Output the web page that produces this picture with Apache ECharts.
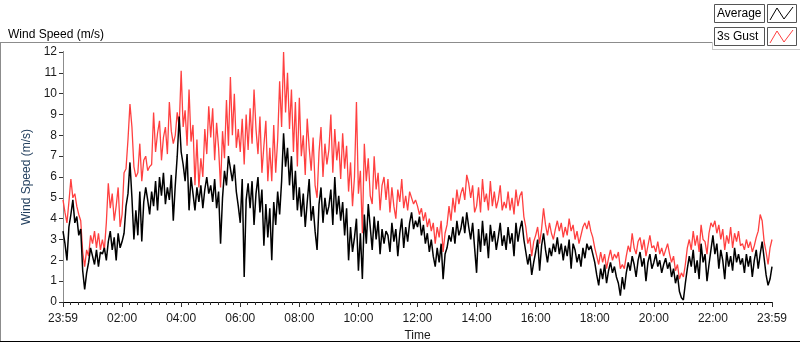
<!DOCTYPE html>
<html>
<head>
<meta charset="utf-8">
<script src="https://cdn.jsdelivr.net/npm/echarts@6/dist/echarts.min.js"></script>
<style>
html, body { margin: 0; padding: 0; background: #fff; }
#chart { width: 800px; height: 342px; }
</style>
</head>
<body>
<div id="chart"></div>
<script>
// one reading every 4 minutes, from 23:59 to 23:59
var stepMinutes = 4;

var avgSpeed = [
    3.4, 2.8, 2.0, 3.6, 4.2, 4.9, 3.8, 4.1, 3.2, 3.5, 1.5, 0.6, 1.4, 1.9, 2.6,
    2.2, 1.8, 2.5, 1.7, 2.4, 2.3, 2.6, 2.0, 2.9, 3.4, 2.5, 3.1, 2.0, 3.3, 2.6,
    2.9, 3.3, 4.6, 5.2, 6.7, 5.0, 3.0, 4.4, 3.2, 5.3, 2.9, 4.8, 5.5, 4.9, 4.2,
    5.3, 4.6, 5.8, 4.4, 6.0, 5.1, 6.2, 4.7, 5.5, 4.9, 6.1, 3.9, 5.6, 7.0, 8.9,
    7.2, 6.6, 5.8, 7.1, 4.4, 6.0, 5.2, 4.4, 5.5, 4.8, 5.6, 4.5, 5.4, 6.0, 5.2,
    5.6, 4.8, 5.9, 4.5, 5.3, 2.8, 5.0, 6.3, 5.6, 7.0, 6.4, 5.8, 6.6, 5.3, 4.6,
    3.8, 5.9, 1.2, 4.9, 5.7, 4.5, 5.8, 3.7, 5.2, 6.0, 4.3, 5.4, 2.7, 4.7, 3.1,
    4.5, 2.0, 4.8, 3.7, 5.3, 4.2, 5.8, 8.1, 6.5, 7.4, 5.6, 7.0, 4.9, 6.3, 4.4,
    5.5, 4.1, 5.2, 3.6, 4.8, 5.9, 3.9, 4.6, 3.4, 2.5, 4.7, 5.5, 3.8, 5.0, 4.2,
    4.6, 5.4, 3.7, 6.0, 4.2, 5.1, 3.9, 4.8, 3.2, 4.5, 2.0, 3.6, 2.4, 3.1, 4.0,
    1.5, 3.3, 1.1, 4.2, 2.8, 4.7, 3.6, 2.5, 4.1, 3.0, 3.9, 2.3, 3.5, 2.8, 3.4,
    3.2, 2.4, 3.8, 2.9, 3.5, 2.2, 3.3, 4.0, 2.6, 3.6, 2.9, 3.8, 4.3, 3.5, 3.9,
    3.6, 4.1, 3.2, 3.7, 2.8, 3.3, 2.4, 3.0, 2.2, 1.7, 2.6, 1.9, 2.8, 1.1, 2.3,
    2.6, 3.2, 2.9, 3.6, 2.8, 3.9, 3.2, 3.5, 4.1, 3.3, 4.3, 3.6, 3.0, 3.8, 2.6,
    1.4, 3.5, 2.4, 3.9, 2.7, 3.3, 2.1, 3.7, 2.9, 3.4, 2.5, 3.1, 3.8, 2.7, 3.2,
    2.5, 3.6, 2.8, 3.3, 2.2, 3.8, 2.9, 3.5, 3.9, 3.0, 2.4, 1.8, 2.3, 1.3, 1.9,
    2.4, 3.0, 1.5, 2.7, 3.3, 2.5, 1.9, 2.6, 2.2, 2.8, 2.4, 3.1, 2.3, 2.8, 2.0,
    2.7, 2.2, 3.0, 1.6, 2.8, 2.5, 1.9, 2.3, 1.7, 2.6, 2.1, 2.8, 2.5, 2.7, 2.3,
    1.9, 1.3, 0.8, 1.6, 1.1, 1.8, 0.9, 1.5, 1.9, 1.4, 1.7, 1.2, 0.9, 0.3, 1.2,
    0.6, 1.4, 1.9, 1.5, 2.2, 1.8, 1.2, 2.0, 2.4, 1.7, 2.1, 1.0, 1.9, 2.3, 1.6,
    1.9, 2.3, 1.7, 2.0, 1.4, 1.8, 2.1, 1.6, 1.9, 1.2, 1.6, 0.9, 1.3, 0.5, 0.2,
    0.1, 0.9, 1.6, 2.2, 1.7, 2.5, 1.4, 2.0, 1.1, 2.8, 1.9, 2.3, 1.0, 1.8, 2.5,
    3.2, 2.3, 2.8, 1.6, 2.5, 2.0, 1.1, 2.4, 1.7, 2.2, 1.5, 2.6, 1.9, 2.3, 1.8,
    2.1, 1.4, 2.3, 1.7, 2.2, 1.2, 2.0, 2.5, 1.6, 2.3, 2.9, 2.1, 1.3, 0.8, 1.1, 1.7
];

var gustSpeed = [
    4.9, 4.3, 3.8, 4.8, 5.9, 5.0, 5.2, 4.6, 4.2, 3.9, 2.4, 1.7, 2.5, 2.2, 3.2,
    2.8, 3.4, 2.6, 3.3, 2.5, 3.0, 2.5, 3.8, 5.7, 4.5, 5.2, 3.9, 4.6, 5.5, 3.6,
    4.2, 6.2, 6.4, 7.8, 9.5, 8.4, 6.5, 6.0, 6.2, 7.6, 5.8, 6.8, 7.0, 6.3, 6.5,
    6.6, 9.1, 7.2, 8.1, 8.7, 6.8, 7.9, 8.4, 7.1, 9.6, 8.2, 7.6, 8.0, 9.1, 8.4,
    11.1, 8.4, 9.2, 7.5, 10.2, 7.7, 8.5, 5.6, 7.8, 5.5, 6.9, 6.0, 8.3, 7.1, 9.4,
    7.9, 9.3, 6.8, 8.6, 7.4, 5.5, 8.2, 6.9, 9.7, 7.5, 10.8, 8.0, 10.0, 7.4, 8.3,
    7.2, 8.8, 6.6, 9.0, 7.3, 9.3, 7.6, 10.2, 8.3, 7.1, 8.9, 6.2, 7.5, 8.7, 5.8,
    7.4, 5.8, 8.5, 6.2, 7.8, 10.6, 8.4, 12.0, 9.1, 11.0, 8.3, 10.2, 7.2, 9.6, 6.5,
    9.8, 7.0, 8.0, 6.1, 8.8, 7.4, 6.3, 7.9, 5.6, 5.0, 7.2, 8.4, 6.0, 7.6, 6.6,
    7.3, 9.0, 6.2, 8.3, 6.8, 7.7, 5.9, 8.1, 6.4, 7.5, 5.3, 6.7, 4.6, 6.0, 9.6,
    5.2, 6.3, 3.3, 7.6, 5.8, 6.9, 5.1, 4.7, 7.0, 5.4, 6.2, 4.4, 5.6, 6.0, 4.9,
    5.9, 4.3, 5.5, 4.6, 4.0, 5.4, 4.8, 5.9, 4.5, 5.1, 4.4, 5.3, 5.0, 4.7, 4.9,
    4.6, 4.2, 4.5, 3.9, 4.3, 3.6, 4.0, 3.4, 3.8, 2.8, 3.6, 3.1, 3.9, 2.4, 3.3,
    3.7, 4.6, 3.9, 5.0, 4.3, 5.4, 4.7, 5.2, 5.5, 4.9, 6.1, 5.7, 5.0, 5.6, 4.3,
    4.6, 5.5, 4.3, 5.9, 4.8, 5.2, 4.4, 5.8, 4.6, 5.3, 4.5, 4.9, 5.6, 4.4, 4.8,
    4.5, 5.3, 4.4, 5.0, 4.2, 5.4, 4.6, 5.1, 5.3, 4.1, 3.6, 2.8, 3.1, 2.2, 2.9,
    3.2, 3.6, 2.8, 3.5, 4.5, 3.7, 3.2, 3.8, 3.3, 3.0, 3.5, 3.9, 3.4, 3.8, 3.1,
    3.6, 3.2, 4.0, 3.4, 3.7, 3.0, 3.4, 2.8, 3.2, 3.6, 3.8, 3.5, 3.9, 3.4, 3.1,
    2.6, 2.2, 1.8, 2.4, 1.9, 2.3, 1.6, 2.1, 2.5, 2.0, 2.3, 2.1, 2.4, 1.6, 1.8,
    1.6, 2.2, 2.7, 2.4, 3.3, 2.6, 2.3, 2.9, 3.1, 2.5, 3.0, 2.2, 2.7, 3.2, 2.6,
    2.7, 2.4, 2.9, 2.3, 2.6, 2.2, 2.5, 2.8, 2.3, 1.9, 2.2, 1.5, 1.8, 1.1, 1.4,
    1.2, 1.8, 2.6, 3.0, 2.5, 3.4, 2.7, 3.2, 2.4, 3.7, 3.0, 2.9, 2.3, 3.3, 3.8,
    3.6, 3.9, 3.3, 3.7, 3.0, 3.5, 2.5, 3.2, 2.8, 3.6, 2.6, 3.3, 2.9, 3.4, 2.7,
    2.8, 2.5, 3.0, 2.6, 2.9, 2.4, 2.7, 3.1, 3.4, 4.2, 3.9, 2.9, 2.4, 1.8, 2.6, 3.0
];

var timeLabels = ['23:59', '02:00', '04:00', '06:00', '08:00', '10:00', '12:00',
                  '14:00', '16:00', '18:00', '20:00', '22:00', '23:59'];
var seriesNames = ['Average', '3s Gust'];

function toPairs(values) {
    var out = [];
    for (var i = 0; i < values.length; i++) {
        out.push([i * stepMinutes, values[i]]);
    }
    return out;
}

var labelFont = {color: '#1a1a1a', fontSize: 12, fontFamily: 'Liberation Sans'};

var myChart = echarts.init(document.getElementById('chart'), null, {renderer: 'canvas'});
var option = {
    animation: false,
    backgroundColor: '#fff',
    title: {
        text: 'Wind Speed (m/s)',
        left: 3,
        top: 24,
        textStyle: {fontSize: 12, fontWeight: 'normal', color: '#000', fontFamily: 'Liberation Sans'}
    },
    grid: {left: 63, right: 28, top: 52, bottom: 40, containLabel: false, outerBoundsMode: 'none'},
    xAxis: [{
        type: 'value',
        min: 0,
        max: 1440,
        interval: 120,
        name: 'Time',
        nameLocation: 'middle',
        nameGap: 27,
        nameTextStyle: labelFont,
        axisLine: {lineStyle: {color: '#8c8c8c', width: 1}},
        axisTick: {length: 5, lineStyle: {color: '#333'}},
        minorTick: {show: true, splitNumber: 8, length: 3, lineStyle: {color: '#333'}},
        axisLabel: {
            margin: 11,
            showMinLabel: true,
            showMaxLabel: true,
            color: labelFont.color,
            fontSize: labelFont.fontSize,
            fontFamily: labelFont.fontFamily,
            formatter: function (v) { return timeLabels[Math.round(v / 120)]; }
        },
        splitLine: {show: false}
    }, {
        type: 'value',
        position: 'top',
        min: 0,
        max: 1440,
        axisLine: {show: true, lineStyle: {color: '#000', width: 1}},
        axisTick: {show: false},
        axisLabel: {show: false},
        splitLine: {show: false}
    }],
    yAxis: [{
        type: 'value',
        min: 0,
        max: 12,
        interval: 1,
        name: 'Wind Speed (m/s)',
        nameLocation: 'middle',
        nameGap: 21,
        nameTextStyle: {color: '#23405f', fontSize: 12, fontFamily: 'Liberation Sans'},
        axisLine: {show: true, lineStyle: {color: '#000', width: 1}},
        axisTick: {show: true, length: 4, lineStyle: {color: '#333'}},
        axisLabel: {margin: 6, color: labelFont.color, fontSize: labelFont.fontSize, fontFamily: labelFont.fontFamily},
        splitLine: {show: false}
    }, {
        type: 'value',
        position: 'right',
        min: 0,
        max: 12,
        axisLine: {show: true, lineStyle: {color: '#8c8c8c', width: 1}},
        axisTick: {show: false},
        axisLabel: {show: false},
        splitLine: {show: false}
    }],
    series: [{
        name: seriesNames[1],
        type: 'line',
        showSymbol: false,
        data: toPairs(gustSpeed),
        lineStyle: {color: '#ff4040', width: 1.3},
        itemStyle: {color: '#ff4040'}
    }, {
        name: seriesNames[0],
        type: 'line',
        showSymbol: false,
        data: toPairs(avgSpeed),
        lineStyle: {color: '#000', width: 1.5},
        itemStyle: {color: '#000'}
    }],
    graphic: [
        // outer frame
        {type: 'line', shape: {x1: 0, y1: 42.5, x2: 712, y2: 42.5}, style: {stroke: '#8c8c8c', lineWidth: 1}},
        {type: 'line', shape: {x1: 0.5, y1: 42, x2: 0.5, y2: 342}, style: {stroke: '#8c8c8c', lineWidth: 1}},
        {type: 'line', shape: {x1: 0, y1: 341.5, x2: 800, y2: 341.5}, style: {stroke: '#000', lineWidth: 1}},
        {type: 'line', shape: {x1: 712, y1: 49.5, x2: 800, y2: 49.5}, style: {stroke: '#c8c8c8', lineWidth: 1}},
        {type: 'line', shape: {x1: 712.5, y1: 42, x2: 712.5, y2: 50}, style: {stroke: '#c8c8c8', lineWidth: 1}},
        // legend: Average
        {type: 'rect', shape: {x: 714.5, y: 4.5, width: 50, height: 18}, style: {fill: '#fff', stroke: '#555', lineWidth: 1}},
        {type: 'text', x: 717, y: 13.5, style: {text: seriesNames[0], fill: '#000', fontSize: 12, fontFamily: 'Liberation Sans', verticalAlign: 'middle'}},
        {type: 'rect', shape: {x: 767.5, y: 4.5, width: 29, height: 18}, style: {fill: '#fff', stroke: '#555', lineWidth: 1}},
        {type: 'polyline', shape: {points: [[770, 20], [777, 8], [784, 19], [793, 7]]}, style: {stroke: '#000', lineWidth: 1, fill: null}},
        // legend: 3s Gust
        {type: 'rect', shape: {x: 714.5, y: 27.5, width: 50, height: 18}, style: {fill: '#fff', stroke: '#555', lineWidth: 1}},
        {type: 'text', x: 717, y: 36.5, style: {text: seriesNames[1], fill: '#000', fontSize: 12, fontFamily: 'Liberation Sans', verticalAlign: 'middle'}},
        {type: 'rect', shape: {x: 767.5, y: 27.5, width: 29, height: 18}, style: {fill: '#fff', stroke: '#555', lineWidth: 1}},
        {type: 'polyline', shape: {points: [[770, 43], [777, 31], [784, 42], [793, 30]]}, style: {stroke: '#ff4040', lineWidth: 1, fill: null}}
    ]
};
myChart.setOption(option);
</script>
</body>
</html>
